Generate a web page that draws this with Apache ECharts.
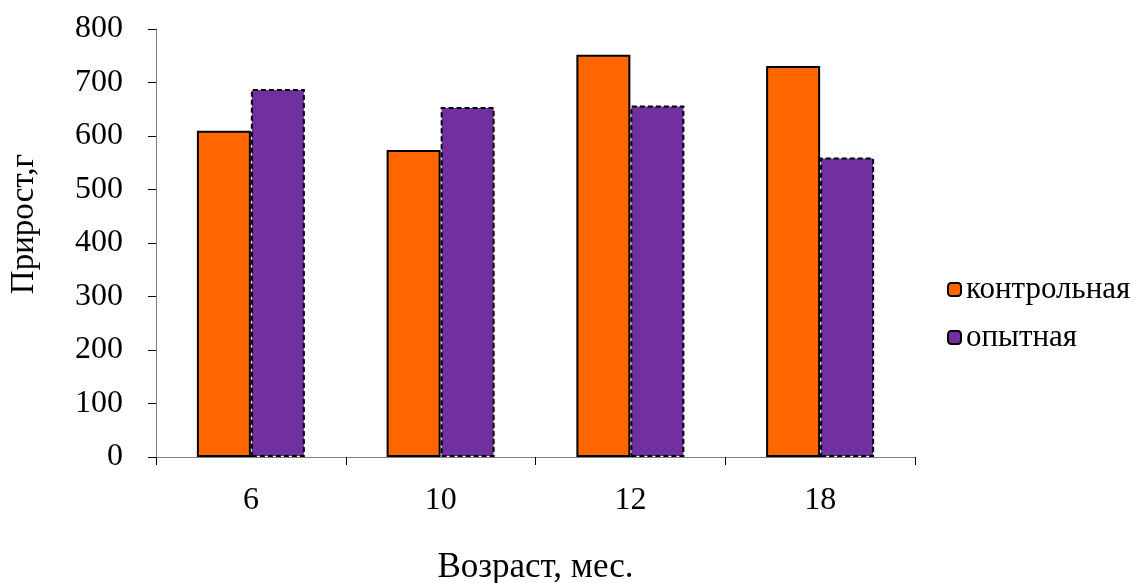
<!DOCTYPE html>
<html>
<head>
<meta charset="utf-8">
<script src="https://cdn.jsdelivr.net/npm/echarts@6/dist/echarts.min.js"></script>
<style>html,body{margin:0;padding:0;background:#fff}#c{width:1140px;height:583px}</style>
</head>
<body>
<div id="c"></div>
<script>
var categories = ['6', '10', '12', '18'];
var controlValues = [610, 574, 752, 731];
var experimentValues = [688, 654, 657, 560];
var seriesNames = ['контрольная', 'опытная'];
var yAxisTitle = 'Прирост,г';
var xAxisTitle = 'Возраст, мес.';

var FONT = '"Liberation Serif", "Times New Roman", serif';
var chart = echarts.init(document.getElementById('c'));
chart.setOption({
  animation: false,
  backgroundColor: '#fff',
  grid: {left: 156, right: 225, top: 29, bottom: 126, outerBoundsMode: 'none', containLabel: false},
  legend: {
    orient: 'vertical', left: 942, top: 269, itemWidth: 13, itemHeight: 13, itemGap: 17,
    textStyle: {fontFamily: FONT, fontSize: 31, color: '#000'},
    data: seriesNames
  },
  xAxis: {
    type: 'category', data: categories,
    axisLine: {lineStyle: {color: '#808080', width: 1}},
    axisTick: {show: true, length: 8, lineStyle: {color: '#000'}},
    axisLabel: {fontFamily: FONT, fontSize: 32, color: '#000', margin: 28},
    name: xAxisTitle, nameLocation: 'middle', nameGap: 93,
    nameTextStyle: {fontFamily: FONT, fontSize: 35, color: '#000'}
  },
  yAxis: {
    type: 'value', min: 0, max: 800, interval: 100,
    axisLine: {show: true, lineStyle: {color: '#808080', width: 1}},
    axisTick: {show: true, length: 8, lineStyle: {color: '#000'}},
    splitLine: {show: false},
    axisLabel: {fontFamily: FONT, fontSize: 32, color: '#000', margin: 33}
  },
  graphic: [{
    type: 'text', left: 8, top: 154, rotation: Math.PI / 2,
    style: {text: yAxisTitle, font: '33px ' + FONT, fill: '#000'}
  }],
  series: [{
    name: seriesNames[0], type: 'bar', data: controlValues,
    barWidth: 54, barGap: '0%',
    itemStyle: {color: '#FF6600', borderColor: '#000', borderWidth: 2}
  }, {
    name: seriesNames[1], type: 'bar', data: experimentValues,
    barWidth: 54, barGap: '0%',
    itemStyle: {color: '#7030A0', borderColor: '#000', borderWidth: 2, borderType: [5, 3]}
  }]
});
</script>
</body>
</html>
